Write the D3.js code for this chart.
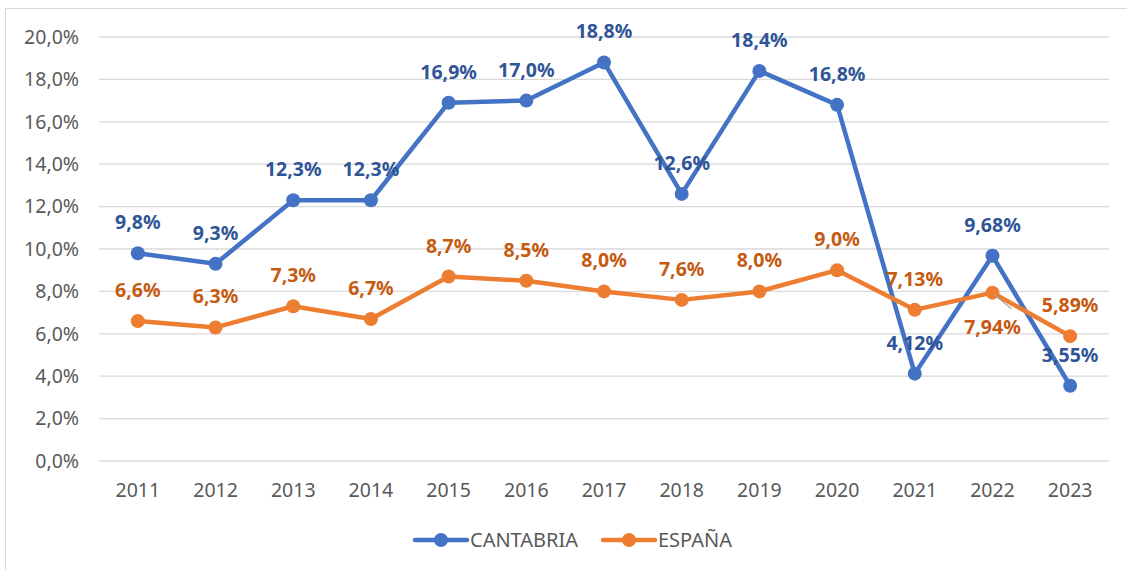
<!DOCTYPE html>
<html>
<head>
<meta charset="utf-8">
<script src="https://cdn.jsdelivr.net/npm/d3@7"></script>
<style>
  body { margin: 0; background: #fff; }
  svg { display: block; font-family: "Noto Sans", "Open Sans", sans-serif; }
</style>
</head>
<body>
<svg id="chart" width="1127" height="570"></svg>
<script>
// chart data
var years = ["2011", "2012", "2013", "2014", "2015", "2016", "2017", "2018", "2019", "2020", "2021", "2022", "2023"];
var cantabria = [9.8, 9.3, 12.3, 12.3, 16.9, 17.0, 18.8, 12.6, 18.4, 16.8, 4.12, 9.68, 3.55];
var espana = [6.6, 6.3, 7.3, 6.7, 8.7, 8.5, 8.0, 7.6, 8.0, 9.0, 7.13, 7.94, 5.89];
var cantabriaLabels = ["9,8%", "9,3%", "12,3%", "12,3%", "16,9%", "17,0%", "18,8%", "12,6%", "18,4%", "16,8%", "4,12%", "9,68%", "3,55%"];
var espanaLabels = ["6,6%", "6,3%", "7,3%", "6,7%", "8,7%", "8,5%", "8,0%", "7,6%", "8,0%", "9,0%", "7,13%", "7,94%", "5,89%"];
var yTicks = [0, 2, 4, 6, 8, 10, 12, 14, 16, 18, 20];

var svg = d3.select("#chart");

// outer frame of the chart area
svg.append("rect")
    .attr("x", 5.5).attr("y", 8.5)
    .attr("width", 1140).attr("height", 580)
    .attr("fill", "none")
    .attr("stroke", "#d9d9d9")
    .attr("stroke-width", 1);

var x = d3.scaleBand().domain(years).range([99, 1109]);
var y = d3.scaleLinear().domain([0, 20]).range([461, 37]);

function cx(i) { return x(years[i]) + x.bandwidth() / 2; }

// gridlines
svg.append("g").selectAll("line")
    .data(yTicks)
    .join("line")
    .attr("x1", 99).attr("x2", 1109)
    .attr("y1", d => y(d)).attr("y2", d => y(d))
    .attr("stroke", "#d9d9d9")
    .attr("stroke-width", 1.3);

// y axis labels
var yAxis = d3.axisLeft(y).tickValues(yTicks).tickSize(0).tickPadding(0)
    .tickFormat(d => d.toFixed(1).replace(".", ",") + "%");
svg.append("g")
    .attr("transform", "translate(79,0)")
    .call(yAxis)
    .call(g => g.select(".domain").remove())
    .selectAll("text")
    .attr("fill", "#595959")
    .attr("font-size", 19.5)
    .attr("font-family", "'Noto Sans', 'Open Sans', sans-serif");

// x axis labels
var xAxis = d3.axisBottom(x).tickSize(0).tickPadding(0);
svg.append("g")
    .attr("transform", "translate(0,483)")
    .call(xAxis)
    .call(g => g.select(".domain").remove())
    .selectAll("text")
    .attr("fill", "#595959")
    .attr("font-size", 19.5)
    .attr("font-family", "'Noto Sans', 'Open Sans', sans-serif");

var series = [
    { name: "CANTABRIA", values: cantabria, labels: cantabriaLabels, color: "#4472c4", labelColor: "#2f5597" },
    { name: "ESPAÑA", values: espana, labels: espanaLabels, color: "#ed7d31", labelColor: "#c55a11" }
];

var line = d3.line()
    .x((d, i) => cx(i))
    .y(d => y(d));

// lines and markers
series.forEach(function (s) {
    svg.append("path")
        .datum(s.values)
        .attr("d", line)
        .attr("fill", "none")
        .attr("stroke", s.color)
        .attr("stroke-width", 4.5)
        .attr("stroke-linejoin", "round");

    svg.append("g").selectAll("circle")
        .data(s.values)
        .join("circle")
        .attr("cx", (d, i) => cx(i))
        .attr("cy", d => y(d))
        .attr("r", 7)
        .attr("fill", s.color);
});

// small leader line for the 2022 espana label
var iLead = years.indexOf("2022");
svg.append("line")
    .attr("x1", cx(iLead) + 2).attr("y1", y(espana[iLead]) + 2)
    .attr("x2", cx(iLead) + 19).attr("y2", y(espana[iLead]) + 16)
    .attr("stroke", "#a6a6a6")
    .attr("stroke-width", 1.2);

// data labels (2022 espana sits below its point)
series.forEach(function (s, si) {
    svg.append("g").selectAll("text")
        .data(s.values)
        .join("text")
        .attr("x", (d, i) => cx(i))
        .attr("y", function (d, i) {
            if (si == 1 && years[i] == "2022") return y(d) + 41;
            return y(d) - 24;
        })
        .attr("text-anchor", "middle")
        .attr("fill", s.labelColor)
        .attr("font-size", 19.5)
        .attr("font-weight", "bold")
        .text((d, i) => s.labels[i]);
});

// legend
var legend = svg.append("g");
var legendX = [415, 603];
series.forEach(function (s, i) {
    var g = legend.append("g").attr("transform", "translate(" + legendX[i] + ",540)");
    g.append("line")
        .attr("x1", 0).attr("x2", 52)
        .attr("stroke", s.color)
        .attr("stroke-width", 4.5)
        .attr("stroke-linecap", "round");
    g.append("circle").attr("cx", 26).attr("r", 7).attr("fill", s.color);
    g.append("text")
        .attr("x", 55).attr("y", 7)
        .attr("fill", "#595959")
        .attr("font-size", 20)
        .text(s.name);
});
</script>
</body>
</html>
